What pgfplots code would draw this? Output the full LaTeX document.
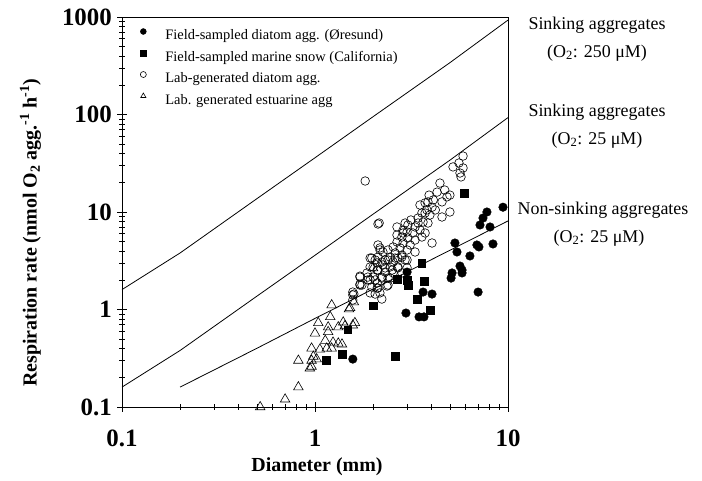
\documentclass[border=0pt]{standalone}
\usepackage{fontspec}
\setmainfont{Liberation Serif}
\usepackage{pgfplots}
\pgfplotsset{compat=1.18}

\pgfplotstableread{
x y
9.42 11.2
7.78 10.0
7.42 8.67
7.16 7.36
8.07 7.02
5.31 4.81
6.90 4.59
7.07 4.38
8.36 4.70
5.44 3.89
6.35 3.54
5.64 2.79
5.78 2.54
5.78 2.37
5.13 2.37
5.07 2.10
3.00 2.42
3.63 1.51
4.04 1.44
7.00 1.51
2.96 0.92
3.46 0.84
3.67 0.84
1.57 0.31
}\oresund

\pgfplotstableread{
x y
5.92 15.7
3.58 3.0
2.66 2.06
3.00 2.01
3.03 1.78
3.67 1.96
3.38 1.28
3.94 0.99
2.00 1.09
1.48 0.62
1.38 0.35
1.14 0.30
2.60 0.33
}\california

\pgfplotstableread{
x y
5.85 37.5
5.57 31.8
5.19 29.0
5.85 28.3
5.64 25.1
5.71 22.9
4.44 19.8
4.83 14.3
5.00 10.0
4.55 8.89
4.29 16.0
3.90 14.9
3.85 12.7
3.72 12.4
4.04 11.2
3.80 10.5
3.72 9.77
3.94 9.31
3.58 9.77
3.42 8.67
3.63 7.89
3.85 7.71
3.42 7.71
3.14 8.28
3.03 7.36
3.30 7.02
3.50 6.53
3.72 6.09
3.22 6.09
3.00 6.24
2.86 6.53
2.82 5.54
3.03 5.41
3.30 5.16
3.58 5.54
4.04 4.81
2.66 4.92
2.86 4.81
3.11 4.59
2.54 4.38
2.76 4.28
3.00 4.08
3.30 3.89
2.39 4.08
2.60 3.80
2.82 3.62
2.25 3.89
2.17 4.28
2.45 3.45
2.69 3.37
2.93 3.22
2.12 3.45
2.31 3.22
2.54 3.07
1.97 3.37
2.10 3.00
2.25 2.86
2.45 2.73
2.69 2.73
3.00 2.67
1.93 2.73
2.10 2.54
2.31 2.42
2.54 2.37
2.82 2.37
1.86 2.37
2.00 2.15
2.22 2.10
2.45 2.10
1.71 2.15
1.88 2.01
2.10 1.87
1.71 1.78
2.15 7.71
1.82 20.8
5.00 14.9
4.55 12.7
2.12 7.53
2.66 7.02
2.93 7.71
2.66 5.81
2.86 6.09
2.12 4.59
2.17 4.08
1.93 3.37
2.05 3.22
2.22 3.07
2.39 3.22
2.60 3.37
2.82 3.45
3.00 3.22
2.00 2.73
2.12 2.54
2.31 2.67
2.51 2.54
2.69 2.67
1.88 2.15
2.05 2.01
2.22 2.15
2.39 2.10
1.75 1.78
1.97 1.70
2.12 1.66
2.36 1.74
1.93 1.48
2.17 1.48
2.22 1.28
1.57 1.41
1.57 1.25
1.71 2.20
1.71 1.82
1.93 2.01
2.10 1.66
2.39 1.78
2.05 1.44
1.59 1.44
1.57 1.51
3.50 11.8
4.10 13.3
4.20 10.5
4.70 16.8
}\labdiatom

\pgfplotstableread{
x y
1.22 1.11
1.59 1.19
1.50 1.01
1.04 0.73
1.20 0.84
1.40 0.74
1.61 0.73
1.57 0.69
1.00 0.57
1.17 0.66
1.17 0.59
1.32 0.66
1.43 0.68
1.13 0.48
1.24 0.46
1.32 0.45
1.38 0.44
0.96 0.40
1.06 0.39
1.15 0.40
1.22 0.40
0.98 0.33
0.96 0.30
1.02 0.31
0.82 0.30
0.96 0.26
0.94 0.25
0.82 0.16
0.70 0.12
0.52 0.10
1.52 1.04
2.00 2.66
}\estuarine

\begin{document}
\begin{tikzpicture}
\path[use as bounding box] (-122bp,-74bp) rectangle (580bp,407bp);
\begin{axis}[
  at={(0,0)}, anchor=south west,
  scale only axis, width=386bp, height=390bp,
  xmode=log, ymode=log,
  xmin=0.1, xmax=10, ymin=0.1, ymax=1000,
  xtick={0.1,1,10}, xticklabels={0.1,1,10},
  ytick={0.1,1,10,100,1000}, yticklabels={0.1,1,10,100,1000},
  xtick pos=bottom, ytick pos=left,
  tick align=center,
  major tick length=10bp, minor tick length=6bp,
  every tick/.style={black, line width=0.6bp},
  axis line style={line width=0.8bp},
  ticklabel style={font=\fontsize{25}{27}\selectfont\bfseries},
  xticklabel style={anchor=center, yshift=-26bp},
  yticklabel style={anchor=east, inner xsep=0pt, xshift=-5bp},
  xlabel={Diameter (mm)},
  ylabel={Respiration rate (nmol O\textsubscript{2} agg.\textsuperscript{-1} h\textsuperscript{-1})},
  label style={font=\fontsize{20}{22}\selectfont\bfseries},
  xlabel style={at={(rel axis cs:0.505,-0.152)}, anchor=center},
  ylabel style={at={(rel axis cs:-0.237,0.447)}, anchor=center},
  clip mode=individual,
  legend style={draw=none, fill=none, at={(rel axis cs:0.047,0.971)}, anchor=north west,
    font=\fontsize{14.5}{16}\selectfont, inner sep=0pt, column sep=19bp, row sep=7.5bp,
    nodes={inner sep=0pt, text height=11bp, text depth=3bp}},
  legend cell align=left,
  legend image post style={mark size=3bp, yshift=4bp},
]
\addplot[only marks, mark=*, mark size=4.3bp, mark options={fill=black, draw=black}] table {\oresund};
\addlegendentry{Field-sampled diatom agg. (Øresund)}
\addplot[only marks, mark=square*, mark size=3.8bp, mark options={fill=black, draw=black}] table {\california};
\addlegendentry{Field-sampled marine snow (California)}
\addplot[only marks, mark=o, mark size=4.3bp, mark options={fill=white, draw=black, line width=0.6bp}] table {\labdiatom};
\addlegendentry{Lab-generated diatom agg.}
\addplot[only marks, mark=triangle, mark size=5.5bp, mark options={fill=white, draw=black, line width=0.6bp}] table {\estuarine};
\addlegendentry{Lab. generated estuarine agg}

\addplot[black, line width=0.8bp, forget plot] coordinates {(0.1,1.6) (0.2,3.8) (0.5,13.7) (1,36) (2,95) (5,340) (10,930)};
\addplot[black, line width=0.8bp, forget plot] coordinates {(0.1,0.16) (0.2,0.38) (0.5,1.37) (1,3.6) (2,9.5) (5,34) (10,93)};
\addplot[black, line width=0.8bp, forget plot] coordinates {(0.2,0.16) (0.5,0.4) (1,0.81) (2,1.62) (5,4.05) (10,8.1)};

\node[font=\fontsize{18}{20}\selectfont] at (rel axis cs:1.2306,0.9795) {Sinking aggregates};
\node[font=\fontsize{18}{20}\selectfont] at (rel axis cs:1.2306,0.9077) {(O\textsubscript{2}: 250 μM)};
\node[font=\fontsize{18}{20}\selectfont] at (rel axis cs:1.2306,0.7564) {Sinking aggregates};
\node[font=\fontsize{18}{20}\selectfont] at (rel axis cs:1.2306,0.6846) {(O\textsubscript{2}: 25 μM)};
\node[font=\fontsize{18}{20}\selectfont] at (rel axis cs:1.2461,0.5051) {Non-sinking aggregates};
\node[font=\fontsize{18}{20}\selectfont] at (rel axis cs:1.2358,0.4333) {(O\textsubscript{2}: 25 μM)};
\end{axis}
\end{tikzpicture}
\end{document}
